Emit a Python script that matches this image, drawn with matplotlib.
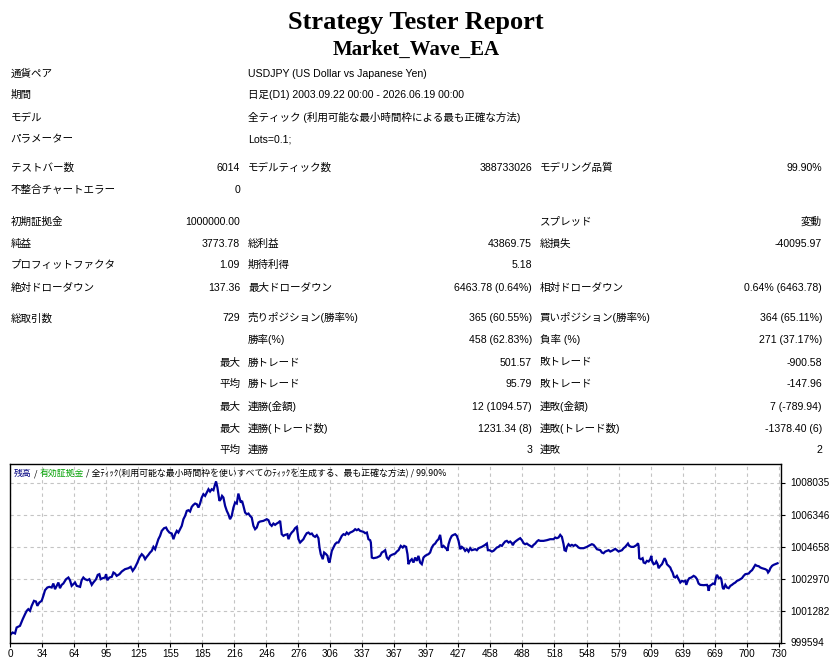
import matplotlib
matplotlib.use('Agg')
import matplotlib.pyplot as plt
import numpy as np

plt.rcParams['font.family'] = ['Liberation Sans', 'Noto Sans CJK JP', 'DejaVu Sans']

# ---------------- data ----------------
title = 'Strategy Tester Report'
subtitle = 'Market_Wave_EA'

info_labels = ['通貨ペア', '期間', 'モデル', 'パラメーター']
info_values = ['USDJPY (US Dollar vs Japanese Yen)',
               '日足(D1) 2003.09.22 00:00 - 2026.06.19 00:00',
               '全ティック (利用可能な最小時間枠による最も正確な方法)',
               'Lots=0.1;']

col0 = ['テストバー数', '不整合チャートエラー', '初期証拠金', '純益', 'プロフィットファクタ',
        '絶対ドローダウン', '総取引数', '', '', '', '', '', '']
col1 = ['6014', '0', '1000000.00', '3773.78', '1.09', '137.36', '729', '',
        '最大', '平均', '最大', '最大', '平均']
col2 = ['モデルティック数', '', '', '総利益', '期待利得', '最大ドローダウン', '売りポジション(勝率%)',
        '勝率(%)', '勝トレード', '勝トレード', '連勝(金額)', '連勝(トレード数)', '連勝']
col3 = ['388733026', '', '', '43869.75', '5.18', '6463.78 (0.64%)', '365 (60.55%)',
        '458 (62.83%)', '501.57', '95.79', '12 (1094.57)', '1231.34 (8)', '3']
col4 = ['モデリング品質', '', 'スプレッド', '総損失', '', '相対ドローダウン', '買いポジション(勝率%)',
        '負率 (%)', '敗トレード', '敗トレード', '連敗(金額)', '連敗(トレード数)', '連敗']
col5 = ['99.90%', '', '変動', '-40095.97', '', '0.64% (6463.78)', '364 (65.11%)',
        '271 (37.17%)', '-900.58', '-147.96', '7 (-789.94)', '-1378.40 (6)', '2']

legend_parts = ['残高', ' / ', '有効証拠金', ' / 全ﾃｨｯｸ(利用可能な最小時間枠を使いすべてのﾃｨｯｸを生成する、最も正確な方法) / 99.90%']

xtick_labels = ['0', '34', '64', '95', '125', '155', '185', '216', '246', '276', '306', '337',
                '367', '397', '427', '458', '488', '518', '548', '579', '609', '639', '669',
                '700', '730']
ytick_values = [999594, 1001282, 1002970, 1004658, 1006346, 1008035]

trades = [
    0, 2.2, 4.5, 6.0, 9.2, 11.8, 14.0, 15.6, 17.1, 18.7,
    20.3, 22.5, 24.4, 25.7, 27.6, 29.8, 31.4, 33.0, 35.2, 37.1,
    39.3, 40.9, 42.5, 44.1, 45.7, 47.2, 48.8, 50.4, 53.0, 55.2,
    56.7, 58.3, 59.9, 61.5, 63.1, 66.3, 67.8, 69.4, 71.0, 73.2,
    75.1, 77.4, 78.9, 81.5, 83.1, 84.6, 85.9, 87.8, 90.0, 91.0,
    92.2, 94.2, 96.4, 98.0, 99.5, 101.1, 103.7, 105.9, 109.0, 112.2,
    114.4, 116.3, 118.5, 120.8, 122.7, 124.9, 126.5, 128.1, 129.6, 131.2,
    132.8, 134.4, 136.0, 137.6, 139.1, 140.7, 142.3, 143.9, 146.1, 148.0,
    149.3, 151.2, 153.4, 155.0, 156.6, 158.2, 159.7, 161.3, 162.9, 164.5,
    166.1, 167.7, 169.2, 170.8, 172.4, 174.0, 175.6, 177.2, 178.8, 180.3,
    181.9, 183.5, 185.1, 186.7, 188.3,
    189.8, 191.4, 193.0, 194.6, 195.5, 196.8, 197.7, 198.7, 200.0, 201.2,
    202.5, 204.1, 205.7, 207.2, 208.8, 210.4, 212.0, 213.6, 215.2, 216.7,
    217.7, 219.0, 220.2, 221.5, 223.1, 224.7, 226.3, 227.8, 229.4, 231.0,
    232.6, 234.2, 235.8, 237.3, 240.5, 243.7, 245.3, 246.8, 248.4, 250.0,
    251.6, 253.2, 254.8, 256.4, 257.9, 259.5, 261.1, 263.3, 264.3, 265.9,
    267.4, 269.0, 270.6, 272.2, 273.8, 275.4, 276.9, 278.5, 280.1, 281.7,
    283.3, 284.9, 286.5, 288.0, 289.6, 291.2, 292.8, 293.8, 295.0, 296.9,
    298.2, 300.1, 301.4, 302.3, 303.3, 304.5, 305.5, 307.1, 308.6, 310.2,
    311.8, 313.4, 315.0, 316.6, 318.2, 319.7, 321.3, 322.9, 324.5, 326.1,
    327.7, 329.2, 330.8, 332.4, 335.6, 337.2, 338.8, 340.3, 341.9, 342.6,
    343.5, 345.1, 348.3, 351.4, 353.0, 354.6, 356.2, 357.8, 359.3, 360.9,
    362.5, 364.1, 365.7, 367.3, 368.9,
    371.0, 372.9, 374.2, 376.1, 377.4, 378.3, 379.9, 381.5, 383.1, 384.7,
    386.3, 387.8, 389.4, 391.0, 392.6, 394.2, 395.8, 397.3, 398.9, 400.5,
    402.1, 403.7, 405.3, 406.9, 408.4, 409.1, 410.0, 411.6, 413.2, 414.8,
    415.4, 416.4, 417.9, 419.5, 421.1, 422.7, 424.3, 425.9, 427.5, 429.0,
    430.6, 432.2, 433.8, 435.4, 437.0, 438.5, 441.7, 443.3, 444.9, 448.0,
    451.2, 452.8, 453.8, 455.3, 457.6, 459.1, 460.7, 462.3, 463.9, 465.5,
    467.1, 468.6, 470.2, 471.8, 473.4, 475.0, 476.6, 477.5, 478.8, 480.7,
    482.9, 484.5, 486.1, 487.7, 489.2, 490.8, 492.4, 494.0, 495.6, 497.2,
    498.8, 500.3, 501.9, 503.5, 506.7, 509.8, 513.0, 516.2, 517.8, 519.3,
    520.9, 522.5, 524.1, 525.7, 526.6, 527.9, 528.9, 530.4, 532.0, 533.6,
    535.2, 536.8, 538.4, 539.9, 541.5, 544.7, 547.9,
    549.5, 552.6, 554.2, 555.8, 557.4, 560.6, 562.1, 563.7, 565.3, 568.5,
    570.1, 571.6, 574.8, 576.4, 578.0, 581.2, 582.7, 584.3, 585.9, 586.9,
    588.1, 590.0, 592.3, 593.8, 595.4, 596.4, 597.0, 597.6, 599.2, 600.8,
    601.8, 603.3, 604.9, 606.5, 608.1, 609.1, 609.7, 611.3, 612.8, 613.8,
    615.1, 616.0, 617.6, 619.2, 620.8, 621.7, 623.0, 623.9, 625.5, 627.1,
    628.1, 629.3, 630.6, 631.9, 633.4, 635.0, 636.6, 638.2, 639.8, 641.4,
    642.3, 643.9, 645.2, 647.1, 649.3, 650.9, 652.5, 654.0, 655.6, 658.8,
    662.0, 662.9, 663.6, 664.5, 666.1, 667.7, 669.3, 670.5, 671.5, 673.1,
    674.6, 675.6, 676.9, 677.8, 679.4, 681.0, 682.6, 684.2, 685.7, 687.3,
    688.9, 690.5, 692.1, 693.7, 695.2, 696.8, 698.4, 701.6, 703.2, 704.8,
    706.3, 707.9, 709.5, 711.1, 712.7, 714.3, 717.4, 719.0, 720.0, 721.2,
    722.2, 723.8, 725.3, 726.9, 728.5, 729.0,
]

equity = [
    1000000, 1000121, 1000069, 1000385, 1000473, 1000825, 1001088, 1001264, 1001352, 1001264,
    1001528, 1001792, 1001756, 1001528, 1001704, 1001792, 1002055, 1002354, 1002495, 1002530,
    1002495, 1002706, 1002407, 1002583, 1002758, 1002460, 1002635, 1002706, 1002934, 1003022,
    1002881, 1002583, 1002671, 1002758, 1002583, 1002530, 1002881, 1003022, 1002934, 1002881,
    1002934, 1002635, 1002758, 1002934, 1003163, 1003198, 1002934, 1002987, 1003022, 1003198,
    1002881, 1003022, 1003057, 1003286, 1003233, 1003110, 1003198, 1003339, 1003462, 1003514,
    1003585, 1003374, 1003550, 1003813, 1004077, 1004253, 1004165, 1003989, 1004112, 1004218,
    1004341, 1004429, 1004639, 1004516, 1004780, 1005044, 1005220, 1005483, 1005624, 1005659,
    1005518, 1005395, 1005343, 1005044, 1005308, 1005483, 1005395, 1005571, 1005747, 1006099,
    1006274, 1006538, 1006573, 1006503, 1006749, 1006855, 1006925, 1006890, 1006714, 1006925,
    1007241, 1007417, 1007329, 1007505, 1007681,
    1007558, 1007681, 1007628, 1007945, 1008085, 1007769, 1007417, 1007066, 1007153, 1007329,
    1007241, 1006802, 1006538, 1006362, 1006099, 1006274, 1006714, 1006978, 1006925, 1007452,
    1007241, 1006978, 1007066, 1006802, 1006450, 1006362, 1006397, 1006274, 1006187, 1005747,
    1005571, 1005659, 1005923, 1005976, 1006011, 1006099, 1006046, 1005835, 1005747, 1005870,
    1005800, 1005870, 1005923, 1006011, 1005308, 1005220, 1005272, 1005308, 1005044, 1005272,
    1005395, 1005483, 1005624, 1005694, 1005044, 1004868, 1004956, 1005044, 1005220, 1005360,
    1005395, 1005308, 1005343, 1005220, 1005167, 1005255, 1005097, 1004604, 1004253, 1003989,
    1004341, 1004253, 1004165, 1003901, 1003813, 1004165, 1004429, 1004604, 1004780, 1004868,
    1004868, 1005044, 1005220, 1005308, 1005272, 1005395, 1005308, 1005395, 1005431, 1005483,
    1005571, 1005518, 1005571, 1005483, 1005431, 1005360, 1005395, 1005044, 1004991, 1004868,
    1004077, 1004042, 1004077, 1004165, 1004341, 1004393, 1004464, 1004077, 1003989, 1004165,
    1004218, 1004253, 1004288, 1004393, 1004464,
    1004692, 1004604, 1004692, 1004639, 1004253, 1003725, 1003901, 1003989, 1003813, 1004077,
    1003901, 1004165, 1003813, 1003725, 1004077, 1004165, 1004218, 1004253, 1004341, 1004604,
    1004745, 1004815, 1004956, 1005044, 1005272, 1005044, 1004604, 1004692, 1004604, 1004516,
    1004429, 1004780, 1005044, 1005220, 1005272, 1005308, 1005220, 1004956, 1004516, 1004639,
    1004569, 1004429, 1004516, 1004393, 1004569, 1004464, 1004516, 1004464, 1004569, 1004639,
    1004745, 1004815, 1004464, 1004464, 1004393, 1004429, 1004516, 1004604, 1004639, 1004727,
    1004692, 1004815, 1004921, 1004956, 1004868, 1004921, 1004833, 1004727, 1004868, 1004956,
    1005044, 1005097, 1004991, 1004833, 1004780, 1004815, 1004745, 1004692, 1004639, 1004745,
    1004815, 1004921, 1004991, 1004956, 1004956, 1004991, 1005044, 1005044, 1005132, 1005097,
    1005132, 1005272, 1005167, 1004780, 1004464, 1004429, 1004639, 1004780, 1004692, 1004745,
    1004692, 1004745, 1004692, 1004604, 1004569, 1004569, 1004639,
    1004692, 1004780, 1004745, 1004639, 1004516, 1004464, 1004341, 1004305, 1004393, 1004464,
    1004393, 1004429, 1004534, 1004464, 1004393, 1004464, 1004569, 1004639, 1004745, 1004815,
    1004692, 1004639, 1004639, 1004692, 1004745, 1004833, 1004692, 1004042, 1003989, 1004042,
    1003813, 1003778, 1003901, 1003866, 1003989, 1004165, 1003901, 1003725, 1003760, 1003866,
    1003725, 1003514, 1003637, 1003725, 1003936, 1004042, 1003901, 1003725, 1003637, 1003550,
    1003409, 1003286, 1003057, 1003022, 1003110, 1002934, 1002758, 1002846, 1002811, 1002846,
    1002635, 1002881, 1002987, 1003022, 1003110, 1003057, 1002934, 1002706, 1002635, 1002618,
    1002635, 1002530, 1002319, 1002583, 1002635, 1002706, 1002671, 1003022, 1003163, 1002987,
    1003022, 1002934, 1002495, 1002407, 1002635, 1002495, 1002460, 1002583, 1002635, 1002706,
    1002758, 1002846, 1002881, 1002934, 1002987, 1003110, 1003198, 1003233, 1003339, 1003409,
    1003550, 1003690, 1003637, 1003620, 1003550, 1003514, 1003462, 1003409, 1003286, 1003374,
    1003514, 1003637, 1003690, 1003725, 1003760, 1003774,
]

# ---------------- layout ----------------
W, H = 832, 664
fig = plt.figure(figsize=(W / 100, H / 100), dpi=100)
fig.patch.set_facecolor('white')


def fx(px):
    return px / W


def fy(py):
    return 1 - py / H


serif = ['Liberation Serif', 'DejaVu Serif']
fig.text(fx(416), fy(28.5), title, family=serif, fontweight='bold', fontsize=19,
         ha='center', va='baseline')
fig.text(fx(416), fy(55), subtitle, family=serif, fontweight='bold', fontsize=15,
         ha='center', va='baseline')

fs = 7.6
base = 4.0  # baseline offset below glyph centre (px)


def put(x, y, s, ha):
    if s:
        fig.text(fx(x), fy(y + base), s, fontsize=fs, ha=ha, va='baseline', color='black')


info_y = [72.7, 94.3, 116.7, 138.3]
for yy, lab, val in zip(info_y, info_labels, info_values):
    put(10.5, yy, lab, 'left')
    put(248, yy, val, 'left')

row_y = [166.7, 189.3, 220.7, 242.7, 264.3, 286.7, 317.3, 339.3, 361.7, 383.3, 406, 427.7, 449.3]
for i, yy in enumerate(row_y):
    put(10.5, yy, col0[i], 'left')
    put(240, yy, col1[i], 'right')
    put(248, yy, col2[i], 'left')
    put(532, yy, col3[i], 'right')
    put(539.5, yy, col4[i], 'left')
    put(822, yy, col5[i], 'right')

# ---------------- chart ----------------
ax_top, ax_bot, ax_l, ax_r = 464.3, 642.5, 10.3, 781
ax = fig.add_axes([fx(ax_l), fy(ax_bot), (ax_r - ax_l) / W, (ax_bot - ax_top) / H])
ax.plot(trades, equity, color='#00009C', linewidth=1.6, solid_joinstyle='miter')
ax.set_xlim(0, 732.3)
ax.set_ylim(999594, 999594 + (ax_bot - ax_top) * 1688.2 / 32)
ax.set_xticks(np.arange(len(xtick_labels)) * 730 / (len(xtick_labels) - 1), labels=xtick_labels)
ax.set_yticks(ytick_values, labels=[str(v) for v in ytick_values])
ax.yaxis.tick_right()
ax.tick_params(axis='both', direction='out', length=3, width=0.8, labelsize=7.2, pad=2,
               colors='black')
ax.tick_params(axis='y', pad=4)
ax.grid(True, color='#c4c4c4', linestyle=(0, (3, 3)), linewidth=0.8)
ax.set_axisbelow(True)
for sp in ax.spines.values():
    sp.set_color('black')
    sp.set_linewidth(1.0)

# legend header inside chart
fig.canvas.draw()
renderer = fig.canvas.get_renderer()
colors = ['#000080', 'black', '#00A000', 'black']
xpos = 14
for part, col in zip(legend_parts, colors):
    t = fig.text(fx(xpos), fy(476), part, fontsize=6.4, color=col, ha='left', va='baseline',
                 family=['Noto Sans CJK JP', 'DejaVu Sans'])
    bb = t.get_window_extent(renderer=renderer)
    xpos += bb.width

fig.savefig('out.png', dpi=100, facecolor='white')
